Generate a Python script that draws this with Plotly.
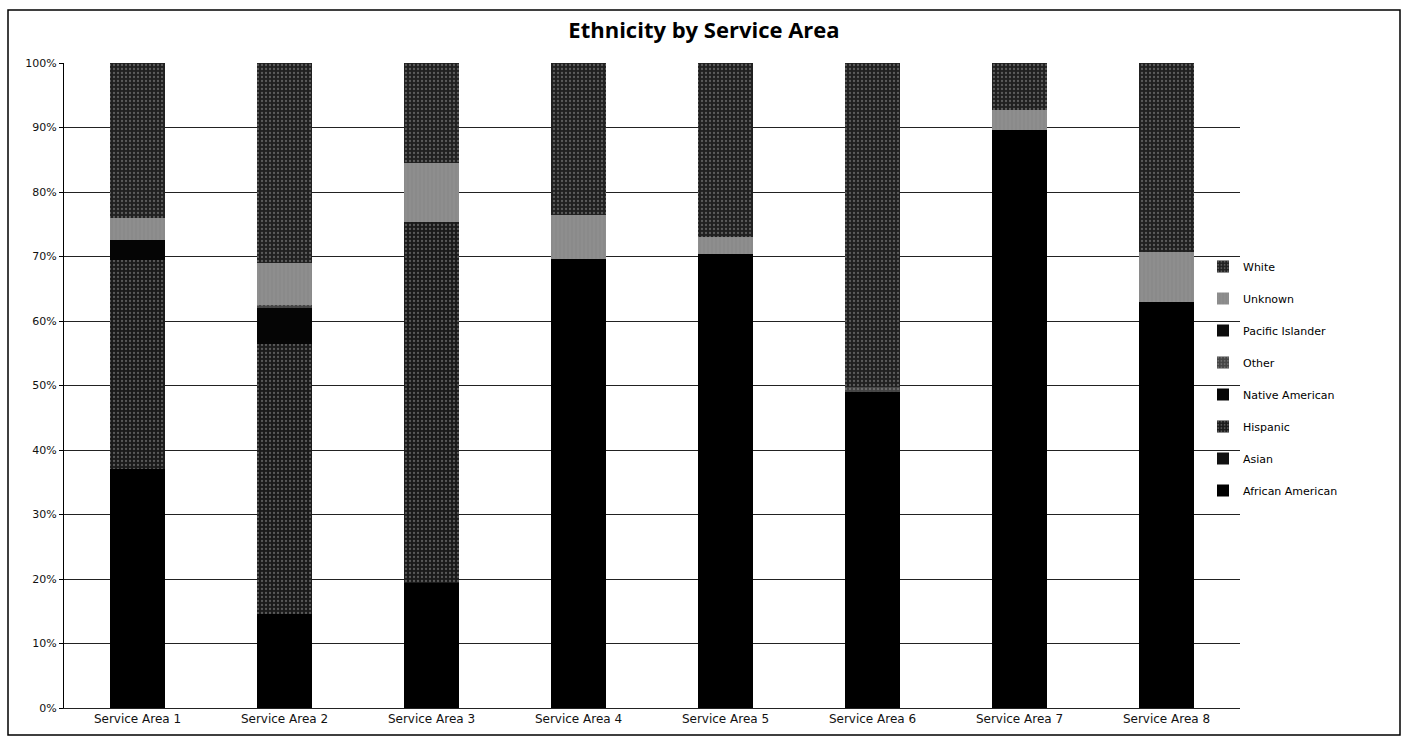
import plotly.graph_objects as go

areas = ["Service Area 1", "Service Area 2", "Service Area 3", "Service Area 4",
         "Service Area 5", "Service Area 6", "Service Area 7", "Service Area 8"]

african_american = [37.0, 14.5, 19.4, 69.6, 70.4, 49.0, 89.6, 63.0]
asian            = [0.0, 0.0, 0.0, 0.0, 0.0, 0.0, 0.0, 0.0]
hispanic         = [32.5, 42.0, 55.9, 0.0, 0.0, 0.0, 0.0, 0.0]
native_american  = [3.0, 5.5, 0.0, 0.0, 0.0, 0.0, 0.0, 0.0]
other            = [0.0, 0.5, 0.0, 0.0, 0.0, 0.8, 0.0, 0.0]
pacific_islander = [0.0, 0.0, 0.0, 0.0, 0.0, 0.0, 0.0, 0.0]
unknown          = [3.5, 6.5, 9.2, 6.8, 2.6, 0.0, 3.1, 7.7]
white            = [24.0, 31.0, 15.5, 23.6, 27.0, 50.2, 7.3, 29.3]

series = [
    ("African American", african_american, "#000000", None),
    ("Asian", asian, "#111111", None),
    ("Hispanic", hispanic, "#1a1a1a", "."),
    ("Native American", native_american, "#050505", None),
    ("Other", other, "#444444", "."),
    ("Pacific Islander", pacific_islander, "#0d0d0d", None),
    ("Unknown", unknown, "#8a8a8a", "|"),
    ("White", white, "#202020", "."),
]

fig = go.Figure()
n = len(series)
for i, (name, vals, col, pat) in enumerate(series):
    marker = dict(color=col, line=dict(width=0))
    if pat:
        marker["pattern"] = dict(shape=pat, fgcolor="#9a9a9a", bgcolor=col,
                                 size=4, solidity=0.25, fillmode="overlay")
    fig.add_trace(go.Bar(name=name, x=areas, y=[v / 100 for v in vals],
                         marker=marker, legendgroup=name, legendrank=n - i))

L, R, T, B = 64, 1240, 63, 708
W, H = 1408, 740
pw, ph = R - L, B - T

def px(x):
    return (x - L) / pw

def py(y):
    return (B - y) / ph

fig.update_layout(
    barmode="stack",
    bargap=0.625,
    width=W, height=H,
    margin=dict(l=L, r=W - R, t=T, b=H - B, pad=0),
    paper_bgcolor="white",
    plot_bgcolor="white",
    font=dict(family="DejaVu Sans, sans-serif", color="#111111"),
    title=dict(text="<b>Ethnicity by Service Area</b>", x=0.5, xanchor="center",
               y=1 - 30 / H, yanchor="middle",
               font=dict(size=22, family="Open Sans, sans-serif", color="#000000")),
    legend=dict(traceorder="grouped", x=px(1203), xanchor="left", y=py(252), yanchor="top",
                font=dict(size=11, family="DejaVu Sans, sans-serif", color="#000000"),
                tracegroupgap=13, itemwidth=30, bgcolor="rgba(0,0,0,0)"),
    yaxis=dict(range=[0, 1], tickformat=".0%", dtick=0.1,
               showgrid=True, gridcolor="#222222", gridwidth=1,
               showline=True, linecolor="#000000", linewidth=1,
               ticks="outside", ticklen=4, tickcolor="#000000",
               tickfont=dict(size=11, family="DejaVu Sans, sans-serif", color="#111111"),
               zeroline=False),
    xaxis=dict(showline=True, linecolor="#222222", linewidth=1,
               ticks="", tickfont=dict(size=12, family="DejaVu Sans, sans-serif", color="#111111")),
    shapes=[dict(type="rect", xref="paper", yref="paper",
                 x0=px(8), x1=px(1400), y0=py(735), y1=py(10),
                 line=dict(color="#000000", width=1.5), fillcolor="rgba(0,0,0,0)",
                 layer="below")],
)

fig.write_html("out.html")
